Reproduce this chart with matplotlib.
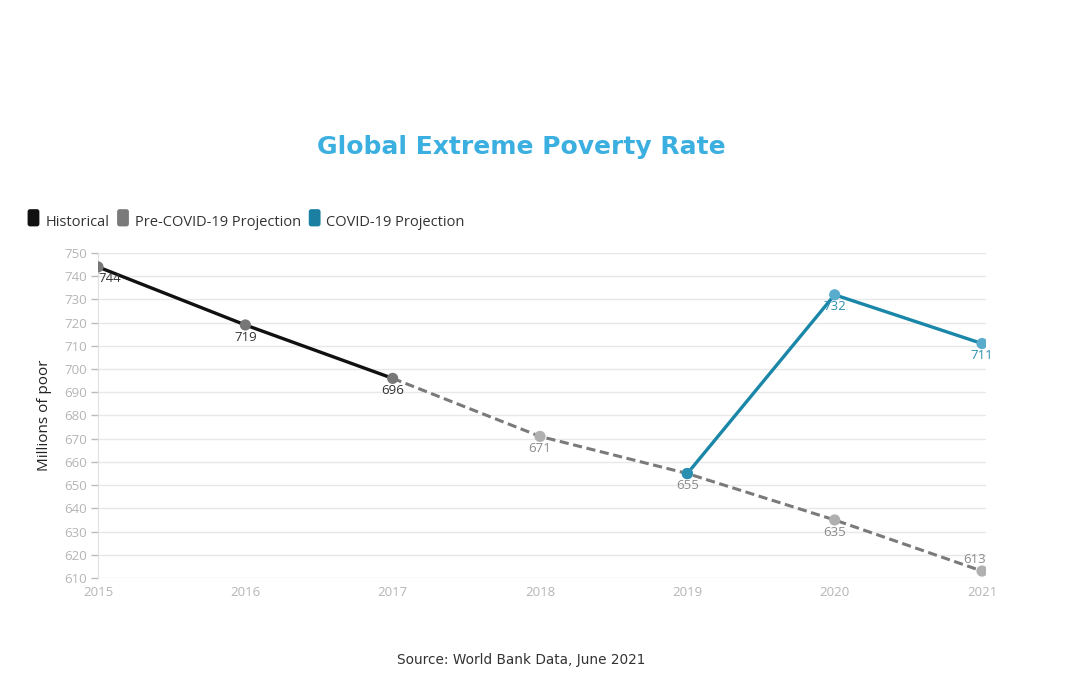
import matplotlib
matplotlib.use("Agg")
import matplotlib.pyplot as plt
from matplotlib.patches import FancyBboxPatch
from matplotlib.legend_handler import HandlerPatch

plt.rcParams['font.family'] = ['Open Sans', 'DejaVu Sans']

hist_years = [2015, 2016, 2017]
hist_vals = [744, 719, 696]
pre_years = [2017, 2018, 2019, 2020, 2021]
pre_vals = [696, 671, 655, 635, 613]
covid_years = [2019, 2020, 2021]
covid_vals = [655, 732, 711]
yticks = list(range(610, 751, 10))
xticks = [2015, 2016, 2017, 2018, 2019, 2020, 2021]

fig = plt.figure(figsize=(10.89, 6.75), dpi=100)
ax = fig.add_axes([0.090, 0.1437, 0.8158, 0.4815])

BLACK = '#111111'
GRAY = '#7a7a7a'
TEAL = '#1a86a8'

ax.plot(pre_years, pre_vals, color=GRAY, lw=2.2, ls=(0, (3, 1.5)), zorder=2)
ax.plot(hist_years, hist_vals, color=BLACK, lw=2.4, zorder=3)
ax.plot(covid_years, covid_vals, color=TEAL, lw=2.4, zorder=3)

ax.scatter(hist_years, hist_vals, s=65, color='#777777', zorder=4, edgecolors='none')
ax.scatter(pre_years[1:], pre_vals[1:], s=65, color='#b0b0b0', zorder=4, edgecolors='none')
ax.scatter(covid_years, covid_vals, s=65, color='#5aaccc', zorder=4, edgecolors='none')
ax.scatter([2019], [655], s=65, color='#2a8fb0', zorder=5, edgecolors='none')

fs = 9.5
for x, v in zip(hist_years, hist_vals):
    dx = 0.08 if x == 2015 else 0
    ax.text(x + dx, v - 2.4, str(v), ha='center', va='top', fontsize=fs, color='#333333', zorder=6)
for x, v in zip(pre_years[1:], pre_vals[1:]):
    if x == 2021:
        ax.text(x - 0.05, v + 2.3, str(v), ha='center', va='bottom', fontsize=fs, color='#8a8a8a', zorder=6)
    else:
        ax.text(x, v - 2.4, str(v), ha='center', va='top', fontsize=fs, color='#8a8a8a', zorder=6)
for x, v in zip(covid_years[1:], covid_vals[1:]):
    ax.text(x, v - 2.4, str(v), ha='center', va='top', fontsize=fs, color='#2a8fb0', zorder=6)

ax.set_xlim(2015, 2021.03)
ax.set_ylim(610, 750)
ax.set_yticks(yticks)
ax.set_xticks(xticks)
ax.set_xticklabels([str(x) for x in xticks])
ax.grid(axis='y', color='#e8e8e8', lw=1)
ax.grid(axis='x', visible=False)
for s in ['top', 'right', 'bottom']:
    ax.spines[s].set_visible(False)
ax.spines['left'].set_color('#e0e0e0')
ax.tick_params(axis='y', colors='#bbbbbb', labelsize=9.5, length=5, width=1, pad=3)
ax.tick_params(axis='x', colors='#bbbbbb', labelsize=9.5, length=0, pad=6)
for lbl in ax.get_yticklabels() + ax.get_xticklabels():
    lbl.set_color('#b5b5b5')
ax.set_ylabel('Millions of poor', fontsize=11, color='#222222', labelpad=9)

fig.text(0.479, 0.782, 'Global Extreme Poverty Rate', ha='center', va='center',
         fontsize=18, fontweight='bold', color='#3aafe0', family=['DejaVu Sans'])
fig.text(0.479, 0.022, 'Source: World Bank Data, June 2021', ha='center', va='center',
         fontsize=9.8, color='#333333', family=['DejaVu Sans'])

class RoundHandler(HandlerPatch):
    def create_artists(self, legend, orig_handle, xdescent, ydescent, width, height, fontsize, trans):
        p = FancyBboxPatch((xdescent + 1, ydescent - 1.5), width - 2, height + 3,
                           boxstyle='round,pad=0,rounding_size=1.8',
                           facecolor=orig_handle.get_facecolor(), edgecolor='none', transform=trans)
        return [p]

handles = [plt.Rectangle((0, 0), 1, 1, facecolor=c) for c in [BLACK, '#7a7a7a', '#1a7fa0']]
leg = fig.legend(handles, ['Historical', 'Pre-COVID-19 Projection', 'COVID-19 Projection'],
                 loc='center left', bbox_to_anchor=(0.012, 0.671), ncol=3, frameon=False,
                 fontsize=10.5, handlelength=1.0, handleheight=1.0, handletextpad=0.3,
                 columnspacing=0.45, handler_map={plt.Rectangle: RoundHandler()})
for t in leg.get_texts():
    t.set_color('#333333')

fig.savefig('out.png', dpi=100, facecolor='white')
